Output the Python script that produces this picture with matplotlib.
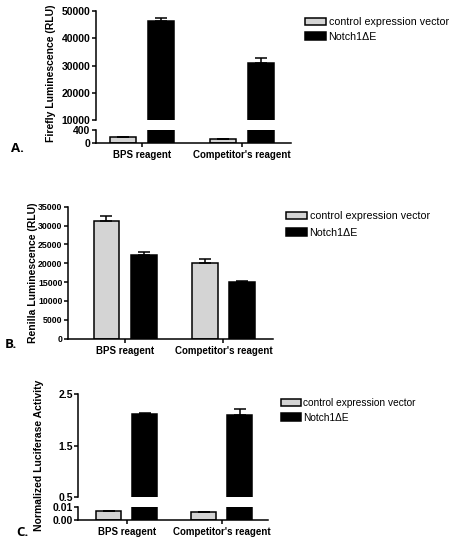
import numpy as np
import matplotlib
matplotlib.use("Agg")
from matplotlib import pyplot as plt

plt.rcParams['font.family'] = ['Liberation Sans', 'DejaVu Sans']

grupos = ["BPS reagent", "Competitor's reagent"]
series = ["control expression vector", "Notch1\u0394E"]

# A: firefly
firefly_ctrl = [185, 120]
firefly_ctrl_err = [8, 6]
firefly_notch = [46400, 31000]
firefly_notch_err = [1200, 1600]

# B: renilla
renilla_ctrl = [31300, 20000]
renilla_ctrl_err = [1300, 1100]
renilla_notch = [22200, 14950]
renilla_notch_err = [700, 400]

# C: normalizado
norm_ctrl = [0.0066, 0.0062]
norm_ctrl_err = [0.0001, 0.0001]
norm_notch = [2.12, 2.09]
norm_notch_err = [0.02, 0.12]

W, H = 456, 543
color_ctrl = "#d4d4d4"
lw = 1.1
ancho = 0.26
desp = 0.19
x = np.arange(len(grupos))

fig = plt.figure(figsize=(W / 100, H / 100), dpi=100)


def caja(izq, der, arriba, abajo):
    return [izq / W, 1 - abajo / H, (der - izq) / W, (abajo - arriba) / H]


def estilo(ax, abajo=True, ysize=7.5):
    for s in ["top", "right"]:
        ax.spines[s].set_visible(False)
    ax.spines["left"].set_linewidth(lw)
    ax.spines["bottom"].set_linewidth(lw)
    if not abajo:
        ax.spines["bottom"].set_visible(False)
        ax.tick_params(axis="x", bottom=False, labelbottom=False)
    ax.tick_params(axis="y", length=3, width=lw, pad=1, labelsize=ysize)
    ax.tick_params(axis="x", length=3, width=lw, pad=2, labelsize=7)
    for t in ax.get_yticklabels() + ax.get_xticklabels():
        t.set_fontweight("bold")


def barras(ax, ctrl, ctrl_err, notch, notch_err):
    b1 = ax.bar(x - desp, ctrl, ancho, color=color_ctrl, edgecolor="black", linewidth=lw,
                yerr=[np.zeros(2), ctrl_err], error_kw=dict(ecolor="black", elinewidth=lw, capsize=4, capthick=lw),
                label=series[0])
    b2 = ax.bar(x + desp, notch, ancho, color="black", edgecolor="black", linewidth=lw,
                yerr=[np.zeros(2), notch_err], error_kw=dict(ecolor="black", elinewidth=lw, capsize=4, capthick=lw),
                label=series[1])
    return b1, b2


def leyenda(handles, izq, arriba, size, esp):
    fig.legend(handles, series, loc="upper left", bbox_to_anchor=(izq / W, 1 - arriba / H),
               bbox_transform=fig.transFigure, frameon=False, fontsize=size, borderpad=0,
               borderaxespad=0, handlelength=2.0, handleheight=0.7, handletextpad=0.2,
               labelspacing=esp)


# ---- A ----
axA1 = fig.add_axes(caja(96, 291, 11, 120))
axA2 = fig.add_axes(caja(96, 291, 130, 143))
hA = barras(axA1, firefly_ctrl, firefly_ctrl_err, firefly_notch, firefly_notch_err)
barras(axA2, firefly_ctrl, firefly_ctrl_err, firefly_notch, firefly_notch_err)
for ax in (axA1, axA2):
    ax.set_xlim(-0.457, 1.493)
    ax.set_xticks(x)
    ax.set_xticklabels(grupos)
axA1.set_ylim(10000, 50000)
axA1.set_yticks(np.arange(10000, 50001, 10000))
axA2.set_ylim(0, 400)
axA2.set_yticks([0, 400])
estilo(axA1, abajo=False)
estilo(axA2)
fig.text(51 / W, 1 - 73 / H, "Firefly Luminescence (RLU)", rotation=90, ha="center", va="center",
         fontsize=7.5, fontweight="bold")
leyenda(hA, 305, 17, 7.7, 0.45)

# ---- B ----
axB = fig.add_axes(caja(68, 273, 206.7, 338.7))
hB = barras(axB, renilla_ctrl, renilla_ctrl_err, renilla_notch, renilla_notch_err)
axB.set_xlim(-0.579, 1.503)
axB.set_xticks(x)
axB.set_xticklabels(grupos)
axB.set_ylim(0, 35000)
axB.set_yticks(np.arange(0, 35001, 5000))
estilo(axB, ysize=6.3)
fig.text(33.5 / W, 1 - 272.5 / H, "Renilla Luminescence (RLU)", rotation=90, ha="center", va="center",
         fontsize=7.5, fontweight="bold")
leyenda(hB, 286, 211, 7.7, 0.63)

# ---- C ----
axC1 = fig.add_axes(caja(78.3, 268, 394, 497.3))
axC2 = fig.add_axes(caja(78.3, 268, 506.7, 520))
hC = barras(axC1, norm_ctrl, norm_ctrl_err, norm_notch, norm_notch_err)
barras(axC2, norm_ctrl, norm_ctrl_err, norm_notch, norm_notch_err)
for ax in (axC1, axC2):
    ax.set_xlim(-0.509, 1.487)
    ax.set_xticks(x)
    ax.set_xticklabels(grupos)
axC1.set_ylim(0.5, 2.5)
axC1.set_yticks([0.5, 1.5, 2.5])
axC1.set_yticklabels(["0.5", "1.5", "2.5"])
axC2.set_ylim(0, 0.01)
axC2.set_yticks([0, 0.01])
axC2.set_yticklabels(["0.00", "0.01"])
estilo(axC1, abajo=False)
estilo(axC2)
fig.text(39 / W, 1 - 455 / H, "Normalized Luciferase Activity", rotation=90, ha="center", va="center",
         fontsize=7.5, fontweight="bold")
leyenda(hC, 281, 398, 7.3, 0.45)

# letras de panel
for letra, px, py in [("A.", 11, 148.5), ("B.", 5, 345), ("C.", 16, 532)]:
    fig.text(px / W, 1 - py / H, letra, ha="left", va="center", fontsize=9.5, fontweight="bold",
             family="Open Sans")

fig.savefig("out.png", dpi=100)
